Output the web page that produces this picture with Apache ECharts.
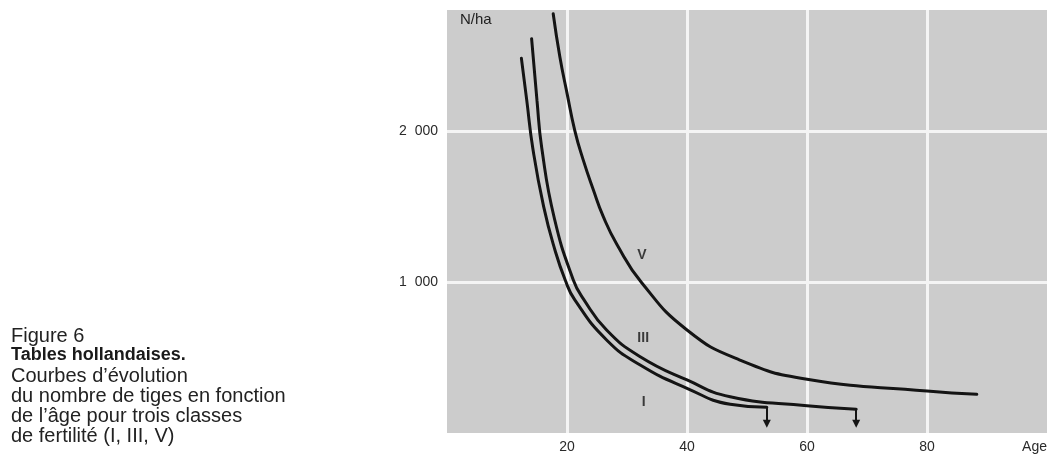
<!DOCTYPE html>
<html>
<head>
<meta charset="utf-8">
<script src="https://cdn.jsdelivr.net/npm/echarts@6/dist/echarts.min.js"></script>
<style>
  html, body { margin: 0; padding: 0; background: #ffffff; }
  #chart { width: 1053px; height: 457px; }
</style>
</head>
<body>
<div id="chart"></div>
<script>
// Nombre de tiges à l'hectare selon l'âge, tables hollandaises
const ageTicks = [20, 40, 60, 80];
const densityTicks = [1000, 2000];

// Classe de fertilité I : [âge, N/ha]
const classI = [
  [12.4, 2480], [13.3, 2200], [14.3, 1885], [16.1, 1500], [18.0, 1210],
  [19.7, 1013], [21.3, 881], [26.6, 616], [32.2, 450], [40.0, 296],
  [47.2, 190], [53.3, 170]
];
// Classe de fertilité III
const classIII = [
  [14.1, 2610], [15.0, 2200], [15.8, 1885], [17.9, 1420], [21.05, 1013],
  [22.7, 890], [26.6, 682], [32.2, 505], [40.0, 351], [47.2, 240],
  [60.0, 180], [68.2, 158]
];
// Classe de fertilité V
const classV = [
  [17.7, 2775], [18.8, 2492], [20.0, 2250], [21.3, 2002], [22.7, 1808],
  [24.4, 1609], [26.05, 1432], [28.3, 1250], [32.45, 995], [40.0, 682],
  [48.8, 483], [60.0, 356], [80.0, 278], [88.3, 256]
];
// Fin de révolution : flèche vers l'axe des âges
const arrowTipN = 62;
// Étiquettes des courbes : [âge, N/ha, texte]
const curveLabels = [
  [32.5, 1179, 'V'],
  [32.7, 629, 'III'],
  [32.8, 205, 'I']
];

const FONT = '"Liberation Sans", Arial, Helvetica, sans-serif';
const INK = '#141414';

// Séparateur de milliers : espace chiffre
function fmtThousands(v) {
  return String(v).replace(/\B(?=(\d{3})+(?!\d))/g, '\u2007');
}

function curveSeries(name, data, withArrow) {
  const s = {
    name: name,
    type: 'line',
    data: data,
    smooth: 0.5,
    showSymbol: false,
    symbol: 'none',
    silent: true,
    lineStyle: { color: INK, width: 3, cap: 'round' },
    z: 3
  };
  if (withArrow) {
    const last = data[data.length - 1];
    s.markLine = {
      silent: true,
      symbol: ['none', 'triangle'],
      symbolSize: [8, 8],
      label: { show: false },
      lineStyle: { color: INK, width: 2, type: 'solid' },
      data: [[{ coord: [last[0], last[1]] }, { coord: [last[0], arrowTipN] }]]
    };
  }
  return s;
}

const chart = echarts.init(document.getElementById('chart'), null, { renderer: 'canvas' });

chart.setOption({
  animation: false,
  backgroundColor: '#ffffff',
  grid: {
    left: 447, top: 10, width: 600, height: 423,
    show: true, backgroundColor: '#cccccc', borderWidth: 0
  },
  xAxis: {
    type: 'value',
    min: 0, max: 100, interval: 20,
    axisLine: { show: false },
    axisTick: { show: false },
    splitLine: {
      show: true, showMinLine: false, showMaxLine: false,
      lineStyle: { color: '#f4f4f4', width: 3 }
    },
    axisLabel: {
      margin: 7,
      color: '#2a2a2a',
      fontFamily: FONT,
      fontSize: 14,
      alignMaxLabel: 'right',
      formatter: function (v) {
        if (v === 100) return 'Age';
        return ageTicks.indexOf(v) >= 0 ? String(v) : '';
      }
    }
  },
  yAxis: {
    type: 'value',
    min: 0, max: 2800, interval: 1000,
    axisLine: { show: false },
    axisTick: { show: false },
    splitLine: {
      show: true, showMinLine: false, showMaxLine: false,
      lineStyle: { color: '#f4f4f4', width: 3 }
    },
    axisLabel: {
      margin: 9,
      color: '#2a2a2a',
      fontFamily: FONT,
      fontSize: 14,
      formatter: function (v) {
        return densityTicks.indexOf(v) >= 0 ? fmtThousands(v) : '';
      }
    }
  },
  graphic: [
    {
      type: 'text', left: 460, top: 12, z: 10,
      style: { text: 'N/ha', font: '15px ' + FONT, fill: '#1e1e1e' }
    },
    {
      type: 'group', left: 11, top: 326, z: 10,
      children: [
        { type: 'text', left: 0, top: 0,
          style: { text: 'Figure 6', font: '20px ' + FONT, fill: '#222' } },
        { type: 'text', left: 0, top: 20,
          style: { text: 'Tables hollandaises.', font: 'bold 18px ' + FONT, fill: '#1a1a1a' } },
        { type: 'text', left: 0, top: 40,
          style: { text: 'Courbes d\u2019évolution', font: '20px ' + FONT, fill: '#222' } },
        { type: 'text', left: 0, top: 60,
          style: { text: 'du nombre de tiges en fonction', font: '20px ' + FONT, fill: '#222' } },
        { type: 'text', left: 0, top: 80,
          style: { text: 'de l\u2019âge pour trois classes', font: '20px ' + FONT, fill: '#222' } },
        { type: 'text', left: 0, top: 100,
          style: { text: 'de fertilité (I, III, V)', font: '20px ' + FONT, fill: '#222' } }
      ]
    }
  ],
  series: [
    curveSeries('I', classI, true),
    curveSeries('III', classIII, true),
    curveSeries('V', classV, false),
    {
      name: 'labels',
      type: 'scatter',
      silent: true,
      symbolSize: 0,
      data: curveLabels.map(function (d) { return { value: [d[0], d[1]], name: d[2] }; }),
      label: {
        show: true,
        position: 'inside',
        formatter: '{b}',
        color: INK,
        fontFamily: FONT,
        fontWeight: 'bold',
        fontSize: 14
      },
      z: 4
    }
  ]
});
</script>
</body>
</html>
